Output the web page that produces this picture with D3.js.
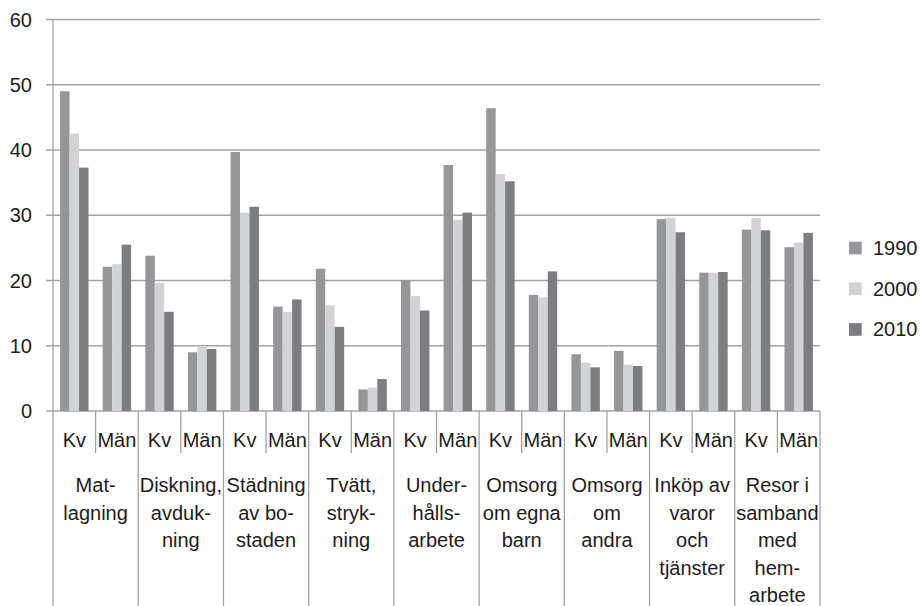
<!DOCTYPE html>
<html>
<head>
<meta charset="utf-8">
<script src="https://cdn.jsdelivr.net/npm/d3@7"></script>
<style>
  html, body { margin: 0; padding: 0; background: #fff; }
  svg { display: block; font-family: "Liberation Sans", Arial, sans-serif; }
</style>
</head>
<body>
<svg id="chart" width="920" height="606"></svg>
<script>
// ---- data ----
const groups = [
  ["Mat-", "lagning"],
  ["Diskning,", "avduk-", "ning"],
  ["Städning", "av bo-", "staden"],
  ["Tvätt,", "stryk-", "ning"],
  ["Under-", "hålls-", "arbete"],
  ["Omsorg", "om egna", "barn"],
  ["Omsorg", "om", "andra"],
  ["Inköp av", "varor", "och", "tjänster"],
  ["Resor i", "samband", "med", "hem-", "arbete"]
];
const subLabels = ["Kv", "Män"];
const seriesNames = ["1990", "2000", "2010"];
const v1990 = [49.0, 22.1, 23.8, 9.0, 39.7, 16.0, 21.8, 3.3, 20.0, 37.7, 46.4, 17.8, 8.7, 9.2, 29.4, 21.2, 27.8, 25.1];
const v2000 = [42.5, 22.5, 19.6, 9.9, 30.4, 15.2, 16.2, 3.6, 17.6, 29.3, 36.3, 17.4, 7.4, 7.1, 29.6, 21.2, 29.6, 25.8];
const v2010 = [37.3, 25.5, 15.2, 9.5, 31.3, 17.1, 12.9, 4.9, 15.4, 30.4, 35.2, 21.4, 6.7, 6.9, 27.4, 21.3, 27.7, 27.3];
const yTicks = [0, 10, 20, 30, 40, 50, 60];

// ---- layout ----
const colors = ["#95969a", "#d2d3d5", "#7c7d81"];
const gridColor = "#a2a2a2";
const textColor = "#1e1b1c";
const fontSize = 20;
const plotLeft = 53, plotRight = 820, plotTop = 19.5, plotBase = 411, plotBottom = 606;

const svg = d3.select("#chart");

const cats = [];
groups.forEach((g, gi) => subLabels.forEach((s, si) => cats.push(gi + "-" + si)));
const table = cats.map((c, i) => ({ key: c, sub: subLabels[i % 2], vals: [v1990[i], v2000[i], v2010[i]] }));

const x0 = d3.scaleBand().domain(cats).range([plotLeft, plotRight]).paddingInner(0).paddingOuter(0);
const x1 = d3.scaleBand().domain(seriesNames).range([0, x0.bandwidth()]).paddingInner(0).paddingOuter(0.75);
const y = d3.scaleLinear().domain([0, 60]).range([plotBase, plotTop]);

// gridlines + ticks
svg.append("g").selectAll("line").data(yTicks).join("line")
  .attr("x1", plotLeft - 7).attr("x2", plotRight)
  .attr("y1", d => y(d)).attr("y2", d => y(d))
  .attr("stroke", gridColor).attr("stroke-width", 1.3);

// y labels
svg.append("g").selectAll("text").data(yTicks).join("text")
  .attr("x", 32).attr("y", d => y(d)).attr("dy", "0.35em")
  .attr("text-anchor", "end").attr("font-size", fontSize).attr("fill", textColor)
  .text(d => d);

// bars
const bars = svg.append("g").selectAll("g").data(table).join("g")
  .attr("transform", d => `translate(${x0(d.key)},0)`);
bars.selectAll("rect").data(d => d.vals.map((v, i) => ({ s: seriesNames[i], v, i }))).join("rect")
  .attr("x", d => x1(d.s)).attr("width", x1.bandwidth())
  .attr("y", d => y(d.v)).attr("height", d => y(0) - y(d.v))
  .attr("fill", d => colors[d.i]);

// axis line
svg.append("line").attr("x1", plotLeft).attr("x2", plotLeft).attr("y1", plotTop).attr("y2", plotBottom)
  .attr("stroke", gridColor).attr("stroke-width", 1.3);

// sub dividers and group dividers
const axisG = svg.append("g");
cats.forEach((c, i) => {
  if (i === 0) return;
  const xx = x0(c);
  const isGroup = i % 2 === 0;
  axisG.append("line").attr("x1", xx).attr("x2", xx).attr("y1", plotBase)
    .attr("y2", isGroup ? plotBottom : 453)
    .attr("stroke", gridColor).attr("stroke-width", 1.3);
});
axisG.append("line").attr("x1", plotRight).attr("x2", plotRight).attr("y1", plotBase).attr("y2", plotBottom)
  .attr("stroke", gridColor).attr("stroke-width", 1.3);

// sub labels
svg.append("g").selectAll("text").data(table).join("text")
  .attr("x", d => x0(d.key) + x0.bandwidth() / 2).attr("y", 447)
  .attr("text-anchor", "middle").attr("font-size", fontSize).attr("fill", textColor)
  .text(d => d.sub);

// group labels
const gw = x0.bandwidth() * 2;
const gl = svg.append("g");
groups.forEach((lines, gi) => {
  const cx = plotLeft + gw * gi + gw / 2;
  const t = gl.append("text").attr("text-anchor", "middle").attr("font-size", fontSize).attr("fill", textColor);
  lines.forEach((ln, li) => {
    t.append("tspan").attr("x", cx).attr("y", 492 + li * 27.5).text(ln);
  });
});

// legend
const lg = svg.append("g");
seriesNames.forEach((s, i) => {
  const cy = 248 + i * 40.7;
  lg.append("rect").attr("x", 849).attr("y", cy - 6.3).attr("width", 12.7).attr("height", 12.7).attr("fill", colors[i]);
  lg.append("text").attr("x", 873).attr("y", cy).attr("dy", "0.35em")
    .attr("font-size", fontSize).attr("fill", textColor).text(s);
});
</script>
</body>
</html>
